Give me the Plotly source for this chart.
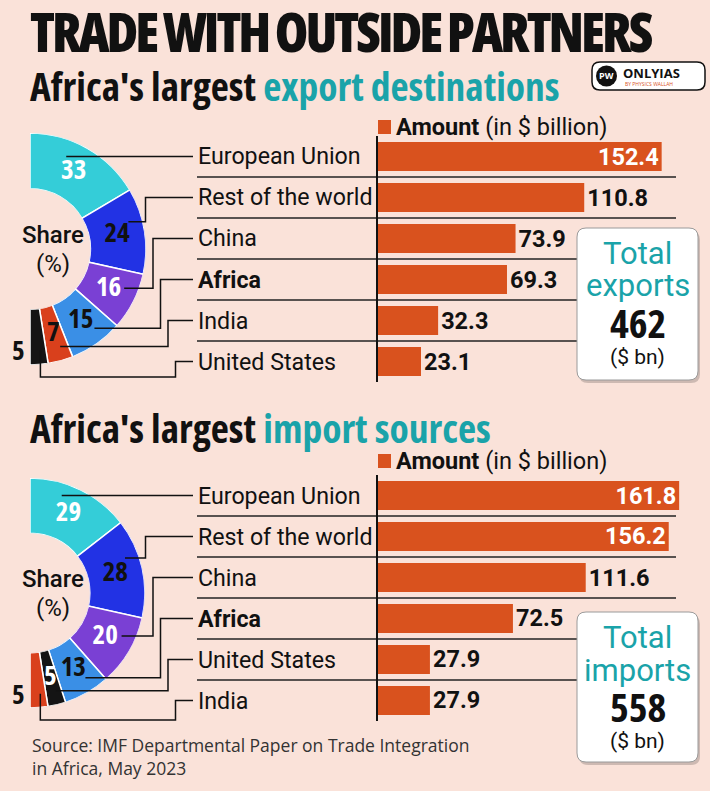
import math
import plotly.graph_objects as go

W, H = 710, 791

# ---------------- data ----------------
exp_categories = ["European Union", "Rest of the world", "China", "Africa", "India", "United States"]
exp_amounts = [152.4, 110.8, 73.9, 69.3, 32.3, 23.1]
exp_shares = [33, 24, 16, 15, 7, 5]
exp_total = 462

imp_categories = ["European Union", "Rest of the world", "China", "Africa", "United States", "India"]
imp_amounts = [161.8, 156.2, 111.6, 72.5, 27.9, 27.9]
imp_shares = [29, 28, 20, 13, 5, 5]
imp_total = 558

title_text = "TRADE WITH OUTSIDE PARTNERS"
source_text = "Source: IMF Departmental Paper on Trade Integration<br>in Africa, May 2023"

# ---------------- style ----------------
BG = "#fae2d9"
BAR = "#d9521e"
TEAL = "#1aa3a9"
INK = "#111111"
FONT = "Open Sans, Roboto, sans-serif"
ROBO = "Roboto, Open Sans, sans-serif"
SEG_COLORS = {"European Union": "#34cdd8", "Rest of the world": "#2232e4", "China": "#7a40d4",
              "Africa": "#3a8fe6", "India": "#d9401c", "United States": "#141414"}
SEG_TEXT = {"European Union": "white", "Rest of the world": INK, "China": "white",
            "Africa": INK, "India": INK, "United States": "white"}


def C(s, extra=""):
    return f"<span style='font-stretch:condensed;{extra}'>{s}</span>"


def px(x):
    return x / W


def py(y):
    return 1 - y / H


sections = [
    dict(cats=exp_categories, amts=exp_amounts, shares=exp_shares, total=exp_total,
         head="export destinations", word="exports",
         bar_top=136, bar_bot=382, cx=30, cy=249, R=116, head_y=86, leg_y=127,
         box=(577, 228, 698, 380), box_y=(253, 286, 322, 357),
         xa="x", ya="y", polar="polar"),
    dict(cats=imp_categories, amts=imp_amounts, shares=imp_shares, total=imp_total,
         head="import sources", word="imports",
         bar_top=475, bar_bot=721, cx=30, cy=593, R=115, head_y=428, leg_y=461,
         box=(577, 612, 698, 762), box_y=(637, 670, 706, 741),
         xa="x2", ya="y2", polar="polar2"),
]

fig = go.Figure()
shapes = []
annotations = []
layout_axes = {}


def rounded_path(x0, y0, x1, y1, r):
    X0, X1 = px(x0), px(x1)
    Y0, Y1 = py(y0), py(y1)
    rx, ry = r / W, r / H
    return (f"M {X0+rx},{Y0} L {X1-rx},{Y0} Q {X1},{Y0} {X1},{Y0-ry} "
            f"L {X1},{Y1+ry} Q {X1},{Y1} {X1-rx},{Y1} L {X0+rx},{Y1} "
            f"Q {X0},{Y1} {X0},{Y1+ry} L {X0},{Y0-ry} Q {X0},{Y0} {X0+rx},{Y0} Z")


def note(x, y, text, size, color=INK, xanchor="left", weight="normal", family=FONT, yanchor="middle", align="left"):
    annotations.append(dict(x=px(x), y=py(y), xref="paper", yref="paper", text=text, showarrow=False,
                            xanchor=xanchor, yanchor=yanchor, align=align,
                            font=dict(family=family, size=size, color=color, weight=weight)))


HOLE = 0.52

for k, s in enumerate(sections):
    cats, amts, shares = s["cats"], s["amts"], s["shares"]
    n = len(cats)
    xa, ya = s["xa"], s["ya"]
    xkey = "xaxis" if xa == "x" else "xaxis2"
    ykey = "yaxis" if ya == "y" else "yaxis2"

    # ---- bars ----
    inside = [a > 140 for a in amts]
    fig.add_trace(go.Bar(
        x=amts, y=cats, orientation="h", xaxis=xa, yaxis=ya,
        marker=dict(color=BAR, line=dict(width=0)),
        texttemplate="%{x:.1f}",
        textposition=["inside" if i else "outside" for i in inside],
        insidetextanchor="end",
        textfont=dict(family=ROBO, size=23.5, weight="bold",
                      color=["white" if i else INK for i in inside]),
        constraintext="none", cliponaxis=False, hoverinfo="skip", showlegend=False,
    ))
    layout_axes[xkey] = dict(domain=[px(378), px(700)], range=[0, 173], visible=False, anchor=ya)
    layout_axes[ykey] = dict(domain=[py(s["bar_bot"]), py(s["bar_top"])], type="category",
                             categoryorder="array", categoryarray=cats, autorange="reversed",
                             showline=True, linecolor=INK, linewidth=1.5, showticklabels=False,
                             showgrid=False, zeroline=False, ticks="", anchor=xa)

    # row separators
    for i in range(n - 1):
        shapes.append(dict(type="line", xref="paper", yref=ya, x0=px(197), x1=px(676),
                           y0=i + 0.5, y1=i + 0.5, line=dict(color="#222", width=1.3), layer="below"))
    # category labels
    for c in cats:
        annotations.append(dict(x=px(196), y=c, xref="paper", yref=ya, text=c, showarrow=False,
                                xanchor="left", yanchor="middle",
                                font=dict(family=ROBO, size=23.2, color=INK,
                                          weight="bold" if c == "Africa" else "normal")))

    # ---- half donut ----
    cx, cy, R = s["cx"], s["cy"], s["R"]
    starts, widths, mids = [], [], []
    acc = 0
    for v in shares:
        starts.append(acc * 1.8)
        widths.append(v * 1.8)
        mids.append((acc + v / 2) * 1.8)
        acc += v
    fig.add_trace(go.Barpolar(
        r=[1] * n, theta=mids, width=widths, subplot=s["polar"],
        marker=dict(color=[SEG_COLORS[c] for c in cats], line=dict(color="white", width=1.5)),
        hoverinfo="skip", showlegend=False,
    ))
    fig.add_trace(go.Scatterpolar(
        r=[0.5] * (n - 1), theta=mids[:-1], text=[C(str(v)) for v in shares[:-1]],
        mode="text", subplot=s["polar"], cliponaxis=False,
        textfont=dict(family=FONT, size=27, color=[SEG_TEXT[c] for c in cats[:-1]], weight="bold"),
        hoverinfo="skip", showlegend=False,
    ))
    layout_axes[s["polar"]] = dict(
        domain=dict(x=[px(cx), px(cx + R)], y=[py(cy + R), py(cy - R)]),
        sector=[-90, 90], hole=HOLE, bgcolor="rgba(0,0,0,0)",
        radialaxis=dict(visible=False, range=[0, 1]),
        angularaxis=dict(visible=False, rotation=90, direction="clockwise"),
    )
    # outside label for the last thin slice
    note(cx - 12, cy + 0.87 * R, C(str(shares[-1])), 27, xanchor="center", weight="bold")
    note(cx + 23, cy - 14, "Share", 24, xanchor="center", weight=500, family=ROBO)
    note(cx + 23, cy + 15, "(%)", 24, xanchor="center", family=ROBO)

    # connectors
    pitch = (s["bar_bot"] - s["bar_top"]) / n
    for i in range(n):
        th = math.radians(starts[i] + 0.35 * widths[i])
        rr = 0.88 * R
        sx = cx + rr * math.sin(th)
        sy = cy - rr * math.cos(th)
        rowy = s["bar_top"] + (i + 0.5) * pitch
        ex = 138 + 7.5 * i
        lx = 193
        if i == 0:
            pts = [(sx, rowy), (lx, rowy)]
        elif i == n - 1:
            low = cy + R + 12
            pts = [(sx, sy), (sx, low), (ex, low), (ex, rowy), (lx, rowy)]
        else:
            pts = [(sx, sy), (ex, sy), (ex, rowy), (lx, rowy)]
        path = "M " + " L ".join(f"{px(a)},{py(b)}" for a, b in pts)
        shapes.append(dict(type="path", xref="paper", yref="paper", path=path,
                           line=dict(color=INK, width=1.5), layer="above"))

    # ---- headline ----
    note(28, s["head_y"], C(f"Africa's largest <span style='color:{TEAL}'>{s['head']}</span>"),
         39.5, weight="bold")
    # ---- legend ----
    ly = s["leg_y"]
    shapes.append(dict(type="rect", xref="paper", yref="paper", x0=px(378), x1=px(391),
                       y0=py(ly + 7), y1=py(ly - 7), fillcolor=BAR, line=dict(width=0)))
    note(394, ly, "<b>Amount</b> (in $ billion)", 23.5, family=ROBO)

    # ---- total box ----
    bx0, by0, bx1, by1 = s["box"]
    shapes.append(dict(type="path", xref="paper", yref="paper",
                       path=rounded_path(bx0 + 2, by0 + 3, bx1 + 2, by1 + 3, 9),
                       fillcolor="rgba(0,0,0,0.18)", line=dict(width=0), layer="above"))
    shapes.append(dict(type="path", xref="paper", yref="paper",
                       path=rounded_path(bx0, by0, bx1, by1, 9),
                       fillcolor="white", line=dict(color="#9a9a9a", width=1), layer="above"))
    bcx = (bx0 + bx1) / 2
    t1, t2, t3, t4 = s["box_y"]
    note(bcx, t1, "Total", 31, TEAL, xanchor="center", family=ROBO)
    note(bcx, t2, s["word"], 31, TEAL, xanchor="center", family=ROBO)
    note(bcx, t3, C(str(s["total"])), 40, INK, xanchor="center", weight="bold")
    note(bcx, t4, "($ bn)", 21, INK, xanchor="center", family=ROBO)

# ---- title ----
note(28, 31, C(title_text, "letter-spacing:-3px"), 54.2, weight=800)
# ---- source ----
note(30, 756, source_text, 17.5, "#333333")

# ---- logo ----
shapes.append(dict(type="path", xref="paper", yref="paper", path=rounded_path(592, 62, 705, 90, 8),
                   fillcolor="white", line=dict(color=INK, width=1.5), layer="above"))
shapes.append(dict(type="circle", xref="paper", yref="paper", x0=px(596), x1=px(617),
                   y0=py(86.5), y1=py(65.5), fillcolor=INK, line=dict(width=0), layer="above"))
note(606.5, 76, "PW", 9, "white", xanchor="center", weight="bold")
note(621, 73, "ONLYIAS", 13, INK, weight="bold")
note(623, 84, "BY PHYSICS WALLAH", 5, "#d9521e")

fig.update_layout(
    width=W, height=H, margin=dict(l=0, r=0, t=0, b=0),
    paper_bgcolor=BG, plot_bgcolor="rgba(0,0,0,0)",
    bargap=0.29, showlegend=False,
    shapes=shapes, annotations=annotations,
    **layout_axes,
)

fig.write_html("out.html", config={"displayModeBar": False},
               post_script="document.body.style.margin='0';document.body.style.background='%s';" % BG)
